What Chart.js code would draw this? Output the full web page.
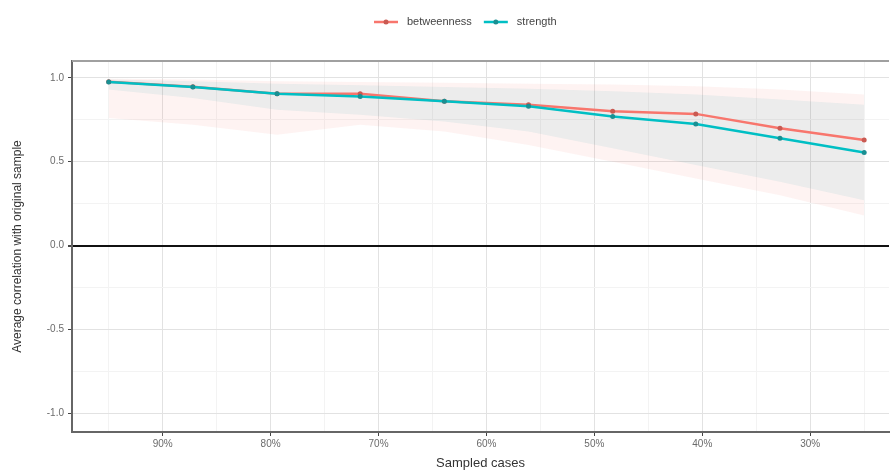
<!DOCTYPE html>
<html>
<head>
<meta charset="utf-8">
<script src="https://cdn.jsdelivr.net/npm/chart.js@4.4.0/dist/chart.umd.min.js"></script>
<style>
  html, body { margin: 0; padding: 0; background: #fff; }
  #wrap { width: 893px; height: 473px; }
</style>
</head>
<body>
<div id="wrap"><canvas id="stabilityChart"></canvas></div>
<script>
// Chart Data
const sampledCases = [95.0, 87.2, 79.4, 71.7, 63.9, 56.1, 48.3, 40.6, 32.8, 25.0];
const betweenness = [0.976, 0.946, 0.905, 0.905, 0.86, 0.84, 0.80, 0.785, 0.70, 0.63];
const strength = [0.975, 0.945, 0.905, 0.889, 0.86, 0.83, 0.77, 0.725, 0.64, 0.555];
const betweennessUpper = [0.995, 0.99, 0.98, 0.975, 0.97, 0.965, 0.96, 0.95, 0.93, 0.90];
const betweennessLower = [0.76, 0.72, 0.66, 0.72, 0.68, 0.60, 0.50, 0.40, 0.30, 0.18];
const strengthUpper = [0.99, 0.98, 0.965, 0.955, 0.945, 0.935, 0.92, 0.90, 0.87, 0.84];
const strengthLower = [0.93, 0.88, 0.81, 0.78, 0.74, 0.68, 0.58, 0.48, 0.38, 0.27];
const xTicks = [25, 30, 35, 40, 45, 50, 55, 60, 65, 70, 75, 80, 85, 90, 95];
const yTicks = [-1, -0.75, -0.5, -0.25, 0, 0.25, 0.5, 0.75, 1];
const legendOrder = ["betweenness", "strength"];

const RED = "#F8766D";
const TEAL = "#00BFC4";
const FONT = "'Liberation Sans', Arial, sans-serif";

const toPoints = (vals) => vals.map((v, i) => ({ x: sampledCases[i], y: v }));
const isHalf = (v) => Math.abs(v * 2 - Math.round(v * 2)) < 1e-9;

// Legend drawn in the top margin (line + point symbols)
const topLegend = {
  id: "topLegend",
  afterDraw(chart) {
    const ctx = chart.ctx;
    ctx.save();
    ctx.font = "11px " + FONT;
    ctx.textBaseline = "middle";
    const y = 22;
    let x = 374;
    legendOrder.forEach((name) => {
      const d = chart.data.datasets.find((ds) => ds.label === name);
      ctx.strokeStyle = d.borderColor;
      ctx.lineWidth = 2.5;
      ctx.beginPath();
      ctx.moveTo(x, y);
      ctx.lineTo(x + 24, y);
      ctx.stroke();
      ctx.fillStyle = d.pointBackgroundColor;
      ctx.beginPath();
      ctx.arc(x + 12, y, 2.5, 0, Math.PI * 2);
      ctx.fill();
      ctx.fillStyle = "#444";
      ctx.fillText(d.label, x + 33, y);
      x += 33 + ctx.measureText(d.label).width + 12;
    });
    ctx.restore();
  },
};

// Top panel border (theme_bw style)
const panelBorder = {
  id: "panelBorder",
  afterDraw(chart) {
    const { ctx, chartArea } = chart;
    ctx.save();
    ctx.strokeStyle = "#a0a0a0";
    ctx.lineWidth = 2;
    ctx.beginPath();
    ctx.moveTo(chartArea.left, chartArea.top);
    ctx.lineTo(chartArea.right, chartArea.top);
    ctx.stroke();
    ctx.restore();
  },
};

const ctx = document.getElementById("stabilityChart").getContext("2d");
const stabilityChart = new Chart(ctx, {
  type: "line",
  data: {
    datasets: [
      {
        label: "strength",
        data: toPoints(strength),
        borderColor: TEAL,
        backgroundColor: TEAL,
        borderWidth: 2.5,
        pointRadius: 2.5,
        pointBackgroundColor: "#1a8f92",
        pointBorderWidth: 0,
        fill: false,
        order: 0,
      },
      {
        label: "betweenness",
        data: toPoints(betweenness),
        borderColor: RED,
        backgroundColor: RED,
        borderWidth: 2.5,
        pointRadius: 2.5,
        pointBackgroundColor: "#c95a52",
        pointBorderWidth: 0,
        fill: false,
        order: 1,
      },
      {
        label: "betweenness upper",
        data: toPoints(betweennessUpper),
        borderWidth: 0,
        pointRadius: 0,
        fill: false,
        order: 3,
      },
      {
        label: "betweenness lower",
        data: toPoints(betweennessLower),
        borderWidth: 0,
        pointRadius: 0,
        backgroundColor: "rgba(248, 118, 109, 0.09)",
        fill: 2,
        order: 3,
      },
      {
        label: "strength upper",
        data: toPoints(strengthUpper),
        borderWidth: 0,
        pointRadius: 0,
        fill: false,
        order: 2,
      },
      {
        label: "strength lower",
        data: toPoints(strengthLower),
        borderWidth: 0,
        pointRadius: 0,
        backgroundColor: "rgba(40, 160, 165, 0.09)",
        fill: 4,
        order: 2,
      },
    ],
  },
  options: {
    responsive: true,
    maintainAspectRatio: false,
    animation: false,
    layout: { padding: { top: 61, right: 0, left: 10, bottom: 0 } },
    plugins: {
      legend: { display: false },
      tooltip: { enabled: false },
    },
    scales: {
      x: {
        type: "linear",
        reverse: true,
        min: 22.7,
        max: 98.4,
        afterBuildTicks: (scale) => {
          scale.ticks = xTicks.map((v) => ({ value: v }));
        },
        afterFit: (scale) => {
          scale.height = 41;
          scale.paddingLeft = 0;
          scale.paddingRight = 0;
        },
        ticks: {
          autoSkip: false,
          maxRotation: 0,
          color: "#6b6b6b",
          font: { size: 10, family: FONT },
          padding: 2,
          callback: (v) => (v % 10 === 0 && v >= 30 && v <= 90 ? v + "%" : ""),
        },
        grid: {
          color: (c) => (c.tick && c.tick.value % 10 === 0 ? "#e2e2e2" : "#f3f3f3"),
          tickColor: (c) => (c.tick && c.tick.value % 10 === 0 && c.tick.value >= 30 && c.tick.value <= 90 ? "#444" : "rgba(0,0,0,0)"),
          tickLength: 4,
          lineWidth: 1,
        },
        border: { color: "#666", width: 2 },
        title: {
          display: true,
          text: "Sampled cases",
          color: "#333",
          font: { size: 13, family: FONT },
          padding: { top: 0, bottom: 2 },
        },
      },
      y: {
        min: -1.11,
        max: 1.1,
        afterBuildTicks: (scale) => {
          scale.ticks = yTicks.map((v) => ({ value: v }));
        },
        afterFit: (scale) => {
          scale.width = 62;
        },
        ticks: {
          color: "#6b6b6b",
          font: { size: 10, family: FONT },
          padding: 4,
          callback: (v) => (isHalf(v) ? v.toFixed(1) : ""),
        },
        grid: {
          color: (c) => {
            if (!c.tick) return "#e2e2e2";
            if (c.tick.value === 0) return "#111";
            return isHalf(c.tick.value) ? "#e2e2e2" : "#f3f3f3";
          },
          lineWidth: (c) => (c.tick && c.tick.value === 0 ? 2 : 1),
          tickColor: (c) => (c.tick && isHalf(c.tick.value) ? "#444" : "rgba(0,0,0,0)"),
          tickLength: 4,
        },
        border: { color: "#666", width: 2 },
        title: {
          display: true,
          text: "Average correlation with original sample",
          color: "#333",
          font: { size: 12, family: FONT },
          padding: { top: 0, bottom: 2 },
        },
      },
    },
  },
  plugins: [topLegend, panelBorder],
});
</script>
</body>
</html>
